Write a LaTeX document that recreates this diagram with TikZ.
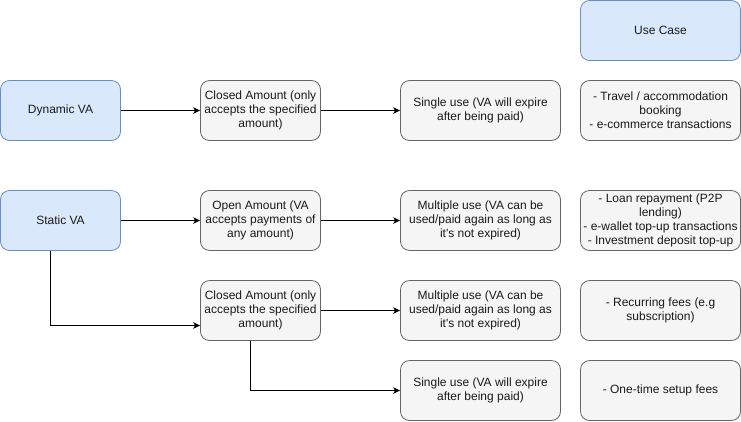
\documentclass[tikz,border=0pt]{standalone}
\usepackage{fontspec}
\setmainfont{Liberation Sans}
\usetikzlibrary{arrows.meta}
\definecolor{bluefill}{HTML}{DAE8FC}
\definecolor{bluestroke}{HTML}{6C8EBF}
\definecolor{grayfill}{HTML}{F5F5F5}
\definecolor{graystroke}{HTML}{666666}
\definecolor{txt}{HTML}{1A1A1A}
\tikzset{
  box/.style={rectangle, rounded corners=9pt, inner sep=0pt, align=center,
    font=\fontsize{12}{14}\selectfont, text=txt, line width=0.8pt},
  bluebox/.style={box, draw=bluestroke, fill=bluefill},
  graybox/.style={box, draw=graystroke, fill=grayfill},
  narrow/.style={minimum width=120pt, minimum height=60pt},
  wide/.style={minimum width=160pt, minimum height=60pt},
  conn/.style={line width=0.9pt, -{Stealth[length=7pt,width=6.5pt,inset=2pt]}}
}
\begin{document}
\begin{tikzpicture}[x=1pt,y=-1pt]
\useasboundingbox (0,0) rectangle (741,421);
\node[bluebox,wide] (usecase) at (660.5,30.5) {Use Case};
\node[bluebox,narrow] (dynamic) at (60.5,110.5) {Dynamic VA};
\node[bluebox,narrow] (static) at (60.5,220.5) {Static VA};
\node[graybox,narrow] (closed1) at (260.5,110.5) {Closed Amount (only\\accepts the specified\\amount)};
\node[graybox,narrow] (open) at (260.5,220.5) {Open Amount (VA\\accepts payments of\\any amount)};
\node[graybox,narrow] (closed2) at (260.5,310.5) {Closed Amount (only\\accepts the specified\\amount)};
\node[graybox,wide] (single1) at (480.5,110.5) {Single use (VA will expire\\after being paid)};
\node[graybox,wide] (multi1) at (480.5,220.5) {Multiple use (VA can be\\used/paid again as long as\\it\textquotesingle s not expired)};
\node[graybox,wide] (multi2) at (480.5,310.5) {Multiple use (VA can be\\used/paid again as long as\\it\textquotesingle s not expired)};
\node[graybox,wide] (single2) at (480.5,390.5) {Single use (VA will expire\\after being paid)};
\node[graybox,wide] (uc1) at (660.5,110.5) {- Travel / accommodation\\booking\\- e-commerce transactions};
\node[graybox,wide] (uc2) at (660.5,220.5) {- Loan repayment (P2P\\lending)\\- e-wallet top-up transactions\\- Investment deposit top-up};
\node[graybox,wide] (uc3) at (660.5,310.5) {- Recurring fees (e.g\\subscription)};
\node[graybox,wide] (uc4) at (660.5,390.5) {- One-time setup fees};
\draw[conn] (dynamic) -- (closed1);
\draw[conn] (closed1) -- (single1);
\draw[conn] (static) -- (open);
\draw[conn] (open) -- (multi1);
\draw[conn] (closed2) -- (multi2);
\draw[conn] ([xshift=-10.5pt]static.south) |- ([yshift=-15pt]closed2.west);
\draw[conn] ([xshift=-10.5pt]closed2.south) |- (single2.west);
\end{tikzpicture}
\end{document}
